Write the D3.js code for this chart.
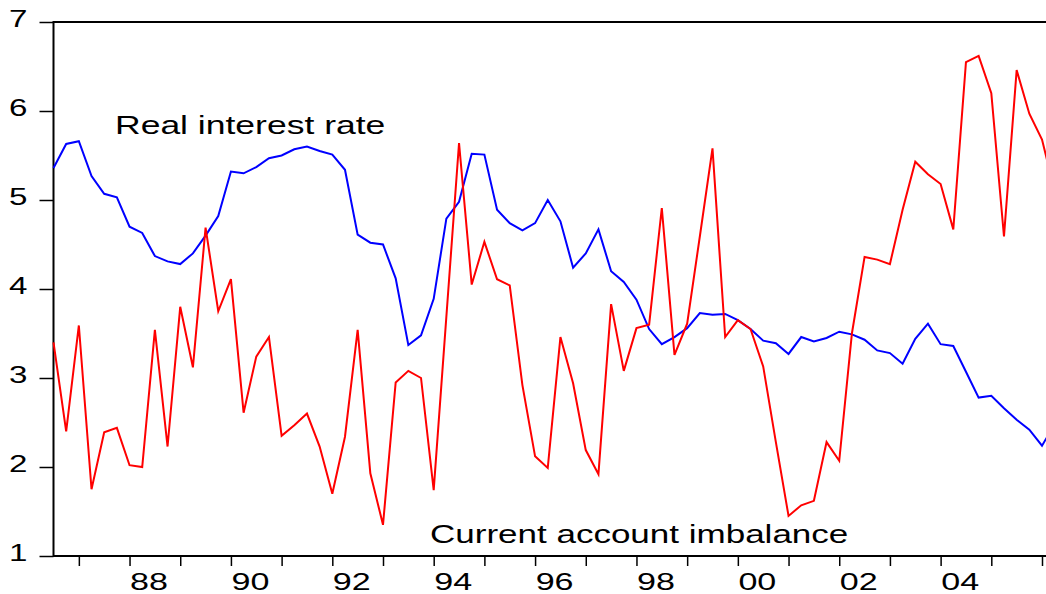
<!DOCTYPE html>
<html>
<head>
<meta charset="utf-8">
<script src="https://cdn.jsdelivr.net/npm/d3@7"></script>
<style>
  html, body { margin: 0; padding: 0; background: #fff; }
  svg { display: block; }
  text { font-family: "Liberation Sans", Arial, sans-serif; fill: #000; }
</style>
</head>
<body>
<div id="chart"></div>
<script>
// quarterly observations, starting 1986 Q3
const startYear = 1986.5;

// real interest rate (blue)
const realRate = [
  5.36, 5.63, 5.66, 5.27, 5.07, 5.03, 4.70, 4.63, 4.37, 4.31,
  4.28, 4.40, 4.60, 4.82, 5.32, 5.30, 5.37, 5.47, 5.50, 5.57,
  5.60, 5.55, 5.51, 5.34, 4.61, 4.52, 4.50, 4.12, 3.37, 3.48,
  3.89, 4.79, 4.98, 5.52, 5.51, 4.89, 4.74, 4.66, 4.74, 5.00,
  4.76, 4.24, 4.40, 4.67, 4.20, 4.08, 3.88, 3.55, 3.38, 3.46,
  3.56, 3.73, 3.71, 3.72, 3.65, 3.55, 3.42, 3.39, 3.27, 3.46,
  3.41, 3.45, 3.52, 3.49, 3.43, 3.31, 3.28, 3.16, 3.44, 3.61,
  3.38, 3.36, 3.07, 2.78, 2.80, 2.66, 2.53, 2.42, 2.24, 2.48
];

// current account imbalance (red)
const currentAccount = [
  3.40, 2.40, 3.59, 1.75, 2.39, 2.44, 2.02, 2.00, 3.54, 2.23,
  3.80, 3.12, 4.69, 3.75, 4.11, 2.61, 3.24, 3.46, 2.35, 2.47,
  2.60, 2.23, 1.70, 2.34, 3.54, 1.93, 1.35, 2.95, 3.08, 3.00,
  1.74, 3.69, 5.64, 4.05, 4.53, 4.11, 4.04, 2.92, 2.12, 1.99,
  3.46, 2.94, 2.19, 1.92, 3.83, 3.08, 3.56, 3.60, 4.91, 3.26,
  3.61, 4.59, 5.58, 3.46, 3.65, 3.55, 3.13, 2.28, 1.45, 1.57,
  1.62, 2.28, 2.07, 3.50, 4.36, 4.33, 4.28, 4.89, 5.43, 5.29,
  5.18, 4.67, 6.55, 6.62, 6.20, 4.59, 6.46, 5.97, 5.68, 5.10
];

const yTicks = [1, 2, 3, 4, 5, 6, 7];
const yearTicks = d3.range(1987, 2007);
const yearLabels = [1988, 1990, 1992, 1994, 1996, 1998, 2000, 2002, 2004];

const width = 1046, height = 594;
const plotLeft = 53.5, plotTop = 22, plotBottom = 556;

const x = d3.scaleLinear().domain([1986.5, 2006.0]).range([plotLeft, 1042]);
const y = d3.scaleLinear().domain([1, 7]).range([plotBottom, plotTop]);
const xEnd = x(startYear + (realRate.length - 1) * 0.25);

const svg = d3.select("#chart").append("svg")
  .attr("width", width)
  .attr("height", height);

// stretch text horizontally like the original output
function stretch(sel, k) {
  sel.each(function () {
    const w = this.getComputedTextLength();
    d3.select(this).attr("textLength", w * k).attr("lengthAdjust", "spacingAndGlyphs");
  });
}

// y axis
const yAxis = svg.append("g")
  .attr("transform", "translate(" + plotLeft + ",0)")
  .call(d3.axisLeft(y).tickValues(yTicks).tickSize(14).tickPadding(12).tickFormat(d3.format("d")));
yAxis.select(".domain").remove();
yAxis.selectAll("line").attr("stroke", "#000").attr("stroke-width", 1.5);
yAxis.selectAll("text").attr("font-size", 24).attr("dy", "0.2em").call(stretch, 1.38);

// x axis ticks
const xAxis = svg.append("g")
  .attr("transform", "translate(0," + plotBottom + ")")
  .call(d3.axisBottom(x).tickValues(yearTicks).tickSize(10).tickFormat(""));
xAxis.select(".domain").remove();
xAxis.selectAll("line").attr("stroke", "#000").attr("stroke-width", 1.5);

// x labels, centred on each year's quarters
const xLab = svg.append("g")
  .attr("transform", "translate(0," + plotBottom + ")")
  .call(d3.axisBottom(x).tickValues(yearLabels.map(d => d + 0.375)).tickSize(0)
    .tickFormat(d => d3.format("02d")(Math.floor(d) % 100)));
xLab.select(".domain").remove();
xLab.selectAll("text").attr("font-size", 24).attr("y", 34).attr("dy", 0).call(stretch, 1.42);

// frame
svg.append("line").attr("x1", plotLeft).attr("x2", xEnd).attr("y1", plotTop).attr("y2", plotTop)
  .attr("stroke", "#000").attr("stroke-width", 2);
svg.append("line").attr("x1", plotLeft).attr("x2", xEnd).attr("y1", plotBottom).attr("y2", plotBottom)
  .attr("stroke", "#000").attr("stroke-width", 2);
svg.append("line").attr("x1", plotLeft).attr("x2", plotLeft).attr("y1", plotTop - 1).attr("y2", plotBottom + 1)
  .attr("stroke", "#000").attr("stroke-width", 2);

const line = d3.line()
  .x((d, i) => x(startYear + i * 0.25))
  .y(d => y(d));

svg.append("path").datum(realRate)
  .attr("fill", "none").attr("stroke", "#0000ff").attr("stroke-width", 2)
  .attr("d", line);

svg.append("path").datum(currentAccount)
  .attr("fill", "none").attr("stroke", "#ff0000").attr("stroke-width", 2)
  .attr("d", line);

// series labels
svg.append("text").attr("x", 115).attr("y", 134).attr("font-size", 25)
  .text("Real interest rate").call(stretch, 1.42);
svg.append("text").attr("x", 430).attr("y", 543).attr("font-size", 25)
  .text("Current account imbalance").call(stretch, 1.40);
</script>
</body>
</html>
